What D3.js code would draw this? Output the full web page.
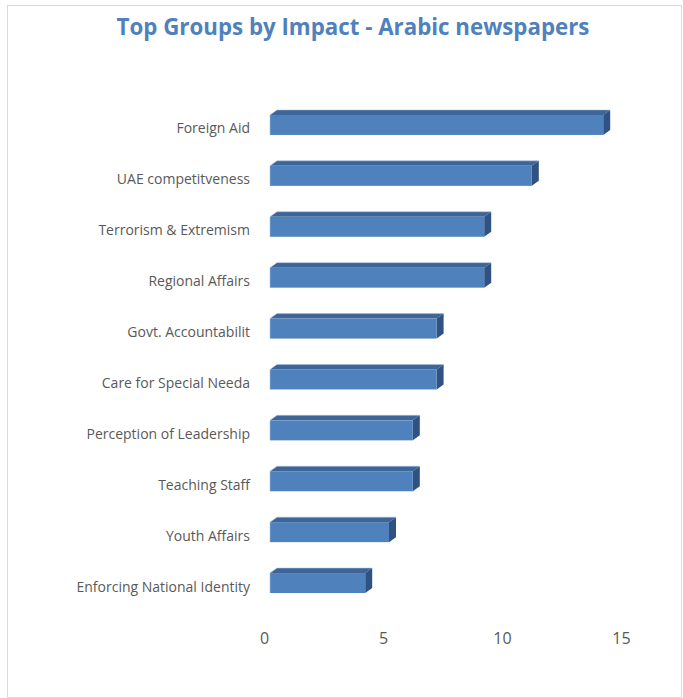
<!DOCTYPE html>
<html>
<head>
<meta charset="utf-8">
<script src="https://cdn.jsdelivr.net/npm/d3@7"></script>
<style>
  html, body { margin: 0; padding: 0; background: #fff; }
  svg { display: block; }
</style>
</head>
<body>
<svg id="chart" width="683" height="698"></svg>
<script>
// Groups, top to bottom, and their impact counts
const categories = [
  "Foreign Aid",
  "UAE competitveness",
  "Terrorism & Extremism",
  "Regional Affairs",
  "Govt. Accountabilit",
  "Care for Special Needa",
  "Perception of Leadership",
  "Teaching Staff",
  "Youth Affairs",
  "Enforcing National Identity"
];
const impact = [14, 11, 9, 9, 7, 7, 6, 6, 5, 4];
const xTicks = [0, 5, 10, 15];
const chartTitle = "Top Groups by Impact - Arabic newspapers";

const svg = d3.select("#chart");

// outer frame
svg.append("rect")
  .attr("x", 7.5).attr("y", 5.5)
  .attr("width", 674).attr("height", 692)
  .attr("fill", "#fff").attr("stroke", "#d9d9d9").attr("stroke-width", 1);

// title
const title = svg.append("text")
  .attr("x", 353).attr("y", 35)
  .attr("text-anchor", "middle")
  .attr("font-family", "Open Sans, sans-serif")
  .attr("font-weight", "bold")
  .attr("font-size", 22)
  .attr("fill", "#4f81bd")
  .text(chartTitle);
{
  const w = title.node().getComputedTextLength();
  title.attr("font-size", 22 * 473 / w);
}

const x = d3.scaleLinear().domain([0, 15]).range([270, 627]);
const y = d3.scaleBand().domain(categories).range([89.5, 618.5]).paddingInner(0.607).paddingOuter(0.5);

const depthX = 7, depthY = 5;
const bh = y.bandwidth();

const bars = svg.append("g").selectAll("g")
  .data(categories.map((c, i) => ({ c, v: impact[i] })))
  .join("g");

// top face
bars.append("path")
  .attr("d", d => {
    const x0 = x(0), x1 = x(d.v), y0 = y(d.c);
    return `M${x0},${y0} L${x0 + depthX},${y0 - depthY} L${x1 + depthX},${y0 - depthY} L${x1},${y0} Z`;
  })
  .attr("fill", "#3d6597");

// side face
bars.append("path")
  .attr("d", d => {
    const x1 = x(d.v), y0 = y(d.c);
    return `M${x1},${y0} L${x1 + depthX},${y0 - depthY} L${x1 + depthX},${y0 + bh - depthY} L${x1},${y0 + bh} Z`;
  })
  .attr("fill", "#2f5282");

// front face
bars.append("rect")
  .attr("x", x(0))
  .attr("y", d => y(d.c))
  .attr("width", d => x(d.v) - x(0))
  .attr("height", bh)
  .attr("fill", "#4f81bd");

// light highlight along the top-left edge
bars.append("path")
  .attr("d", d => {
    const x0 = x(0), x1 = x(d.v), y0 = y(d.c);
    return `M${x0},${y0 + bh} L${x0},${y0} L${x0 + depthX},${y0 - depthY} L${x1 + depthX},${y0 - depthY}`;
  })
  .attr("fill", "none")
  .attr("stroke", "#a9c1e0")
  .attr("stroke-width", 0.8)
  .attr("opacity", 0.7);

// category labels
const yAxis = d3.axisLeft(y).tickSize(0).tickPadding(0);
const gy = svg.append("g")
  .attr("transform", `translate(250,4)`)
  .call(yAxis);
gy.select(".domain").remove();
gy.selectAll("text")
  .attr("font-family", "Open Sans, sans-serif")
  .attr("font-size", 14)
  .attr("fill", "#595959");
gy.selectAll(".tick").attr("transform", d => `translate(0,${y(d) + bh / 2})`);

// value axis
const xAxis = d3.axisBottom(x).tickValues(xTicks).tickSize(0).tickPadding(0).tickFormat(d3.format("d"));
const gx = svg.append("g")
  .attr("transform", `translate(-6,633)`)
  .call(xAxis);
gx.select(".domain").remove();
gx.selectAll("text")
  .attr("font-family", "Open Sans, sans-serif")
  .attr("font-size", 16)
  .attr("fill", "#595959");
</script>
</body>
</html>
